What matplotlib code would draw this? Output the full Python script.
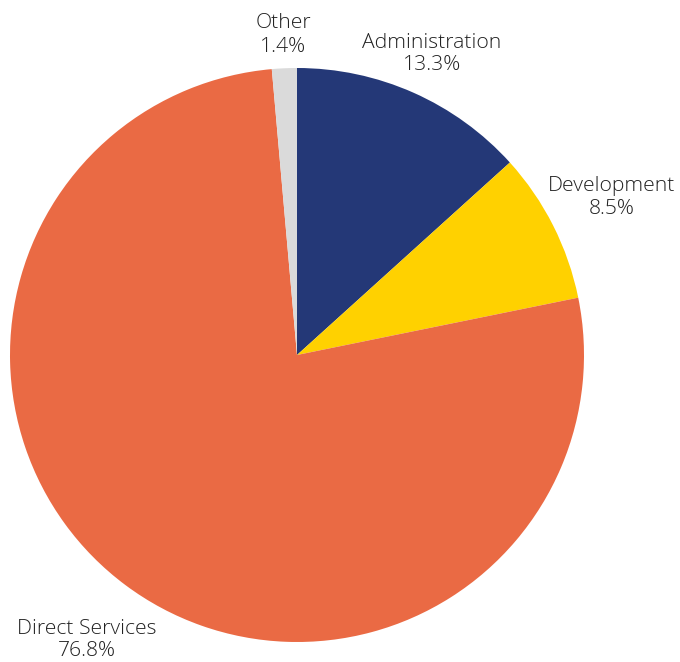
import matplotlib.pyplot as plt

labels = ["Administration", "Development", "Direct Services", "Other"]
shares = [13.3, 8.5, 76.8, 1.4]
colors = ["#243877", "#FFD100", "#EA6A44", "#DADADA"]

# label anchor points in pixel coordinates (x, y from top)
label_pos = [(432, 54), (612, 197), (87, 640), (283, 35)]

W, H = 680, 662
fig = plt.figure(figsize=(W / 100, H / 100), dpi=100)
ax = fig.add_axes([0, 0, 1, 1])

ax.pie(shares, colors=colors, startangle=90, counterclock=False,
       center=(297, H - 355), radius=287, frame=True,
       wedgeprops=dict(linewidth=0))
ax.set_xlim(0, W)
ax.set_ylim(0, H)
ax.set_aspect('equal')
ax.axis('off')

for lab, val, (px, py) in zip(labels, shares, label_pos):
    ax.text(px, H - py, f"{lab}\n{val}%", ha='center', va='center',
            fontsize=15.2, family='Open Sans', fontweight='light',
            color='#222222', linespacing=1.2)

plt.savefig('out.png', dpi=100)
